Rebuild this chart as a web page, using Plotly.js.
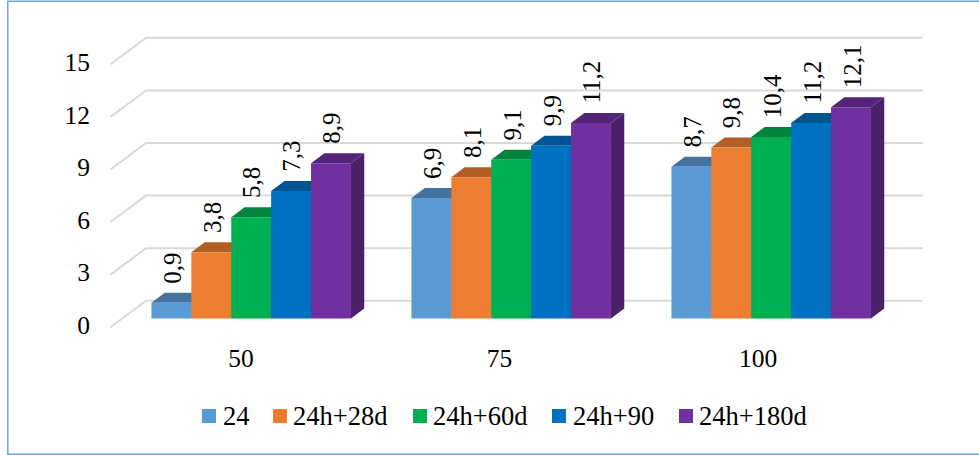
<!DOCTYPE html>
<html><head><meta charset="utf-8">
<script src="https://cdn.plot.ly/plotly-3.0.0.min.js"></script>
<style>html,body{margin:0;padding:0;background:#fff}#c{width:979px;height:455px}</style>
</head><body><div id="c"></div>
<script>
const categories = ["50", "75", "100"];
const seriesNames = ["24", "24h+28d", "24h+60d", "24h+90", "24h+180d"];
const s24 = [0.9, 6.9, 8.7];
const s28 = [3.8, 8.1, 9.8];
const s60 = [5.8, 9.1, 10.4];
const s90 = [7.3, 9.9, 11.2];
const s180 = [8.9, 11.2, 12.1];
const yTicks = [0, 3, 6, 9, 12, 15];
const frontColors = ["#5B9BD5", "#ED7D31", "#00B050", "#0070C0", "#7030A0"];
const topColors = ["#44739F", "#B25E25", "#008440", "#005490", "#54247A"];
const sideColors = ["#3E6A94", "#A35522", "#007A3B", "#004D85", "#4A2068"];

const allSeries = [s24, s28, s60, s90, s180];
const W = 979, H = 455;
const pl = 100, pr = 930, pt = 20, pb = 335;
const slot = 260, barW = 39.9, ppu = 17.45, xc0 = 251.2;
const X = p => (p - xc0) / slot, Y = p => (318.5 - p) / ppu;
const PX = p => (p - pl) / (pr - pl), PY = p => (pb - p) / (pb - pt);
const xr = [X(pl), X(pr)], yr = [Y(pb), Y(pt)];
const dxBar = 13.3 / slot, dyBar = 10 / ppu, bw = barW / slot;
const FONT = "Liberation Serif";

const shapes = [];
yTicks.forEach(v => {
  const yb = 300.8 - 17.53 * v, yf = yb + 26.4;
  shapes.push({type: "path", layer: "below", xref: "x", yref: "y",
    path: `M${X(110.5)},${Y(yf)} L${X(146)},${Y(yb)} L${X(922.7)},${Y(yb)}`,
    line: {color: "#D9D9D9", width: 2}, fillcolor: "rgba(0,0,0,0)"});
});
shapes.push({type: "path", xref: "paper", yref: "paper", layer: "above",
  path: `M${PX(980)},${PY(1.2)} L${PX(7.8)},${PY(1.2)} L${PX(7.8)},${PY(454.2)} L${PX(980)},${PY(454.2)}`,
  line: {color: "#6CA3DA", width: 1.5}, fillcolor: "rgba(0,0,0,0)"});

const traces = [], annotations = [];
allSeries.forEach((vals, i) => {
  const off = (i - 2) * bw;
  vals.forEach((v, g) => {
    const x0 = g + off - bw / 2, x1 = x0 + bw;
    traces.push({type: "scatter", mode: "lines", fill: "toself", showlegend: false, hoverinfo: "skip", zorder: 0,
      x: [x0, x0 + dxBar, x1 + dxBar, x1, x0], y: [v, v + dyBar, v + dyBar, v, v],
      line: {width: 0}, fillcolor: topColors[i]});
    traces.push({type: "scatter", mode: "lines", fill: "toself", showlegend: false, hoverinfo: "skip", zorder: 0,
      x: [x1, x1 + dxBar, x1 + dxBar, x1, x1], y: [0, dyBar, v + dyBar, v, 0],
      line: {width: 0}, fillcolor: sideColors[i]});
    annotations.push({x: g + off, y: v, xref: "x", yref: "y", text: String(v).replace(".", ","),
      showarrow: false, textangle: -90, yanchor: "bottom", xanchor: "center", yshift: 17, xshift: 1,
      font: {family: FONT, size: 25, color: "#000"}});
  });
});
allSeries.forEach((vals, i) => {
  traces.push({type: "bar", name: seriesNames[i], x: categories.map((c, k) => k), y: vals, zorder: 1,
    marker: {color: frontColors[i]}, showlegend: false});
});

// legend drawn to the reference's spacing: swatch left edges, then label left edges
const legendSwatch = [202, 273, 413, 552, 679];
const legendLabel = [220.7, 291.3, 430.7, 570.7, 697];
seriesNames.forEach((n, i) => {
  shapes.push({type: "rect", xref: "paper", yref: "paper", layer: "above",
    x0: PX(legendSwatch[i]), x1: PX(legendSwatch[i] + 14), y0: PY(423), y1: PY(409),
    fillcolor: frontColors[i], line: {width: 0}});
  annotations.push({xref: "paper", yref: "paper", x: PX(legendLabel[i]), y: PY(416), text: n,
    showarrow: false, xanchor: "left", yanchor: "middle", font: {family: FONT, size: 26.5, color: "#000"}});
});

const categoryPx = [241, 499.5, 758];
const layout = {
  width: W, height: H, paper_bgcolor: "#fff", plot_bgcolor: "rgba(0,0,0,0)",
  margin: {l: pl, r: W - pr, t: pt, b: H - pb, autoexpand: false},
  barmode: "group", bargap: 1 - 5 * bw, bargroupgap: 0,
  font: {family: FONT, size: 25, color: "#000"},
  xaxis: {range: xr, showgrid: false, zeroline: false, showline: false,
    tickmode: "array", tickvals: categoryPx.map(X), ticktext: categories,
    ticks: "", ticklabelstandoff: 5, tickfont: {size: 25.5}},
  yaxis: {range: yr, showgrid: false, zeroline: false, showline: false,
    tickmode: "array", tickvals: yTicks.map(v => Y(324.8 - 17.5 * v)), ticktext: yTicks.map(String),
    ticks: "", ticklabelstandoff: 9, tickfont: {size: 25.5}},
  shapes, annotations, showlegend: false
};
Plotly.newPlot("c", traces, layout, {displayModeBar: false, staticPlot: true});
</script></body></html>
